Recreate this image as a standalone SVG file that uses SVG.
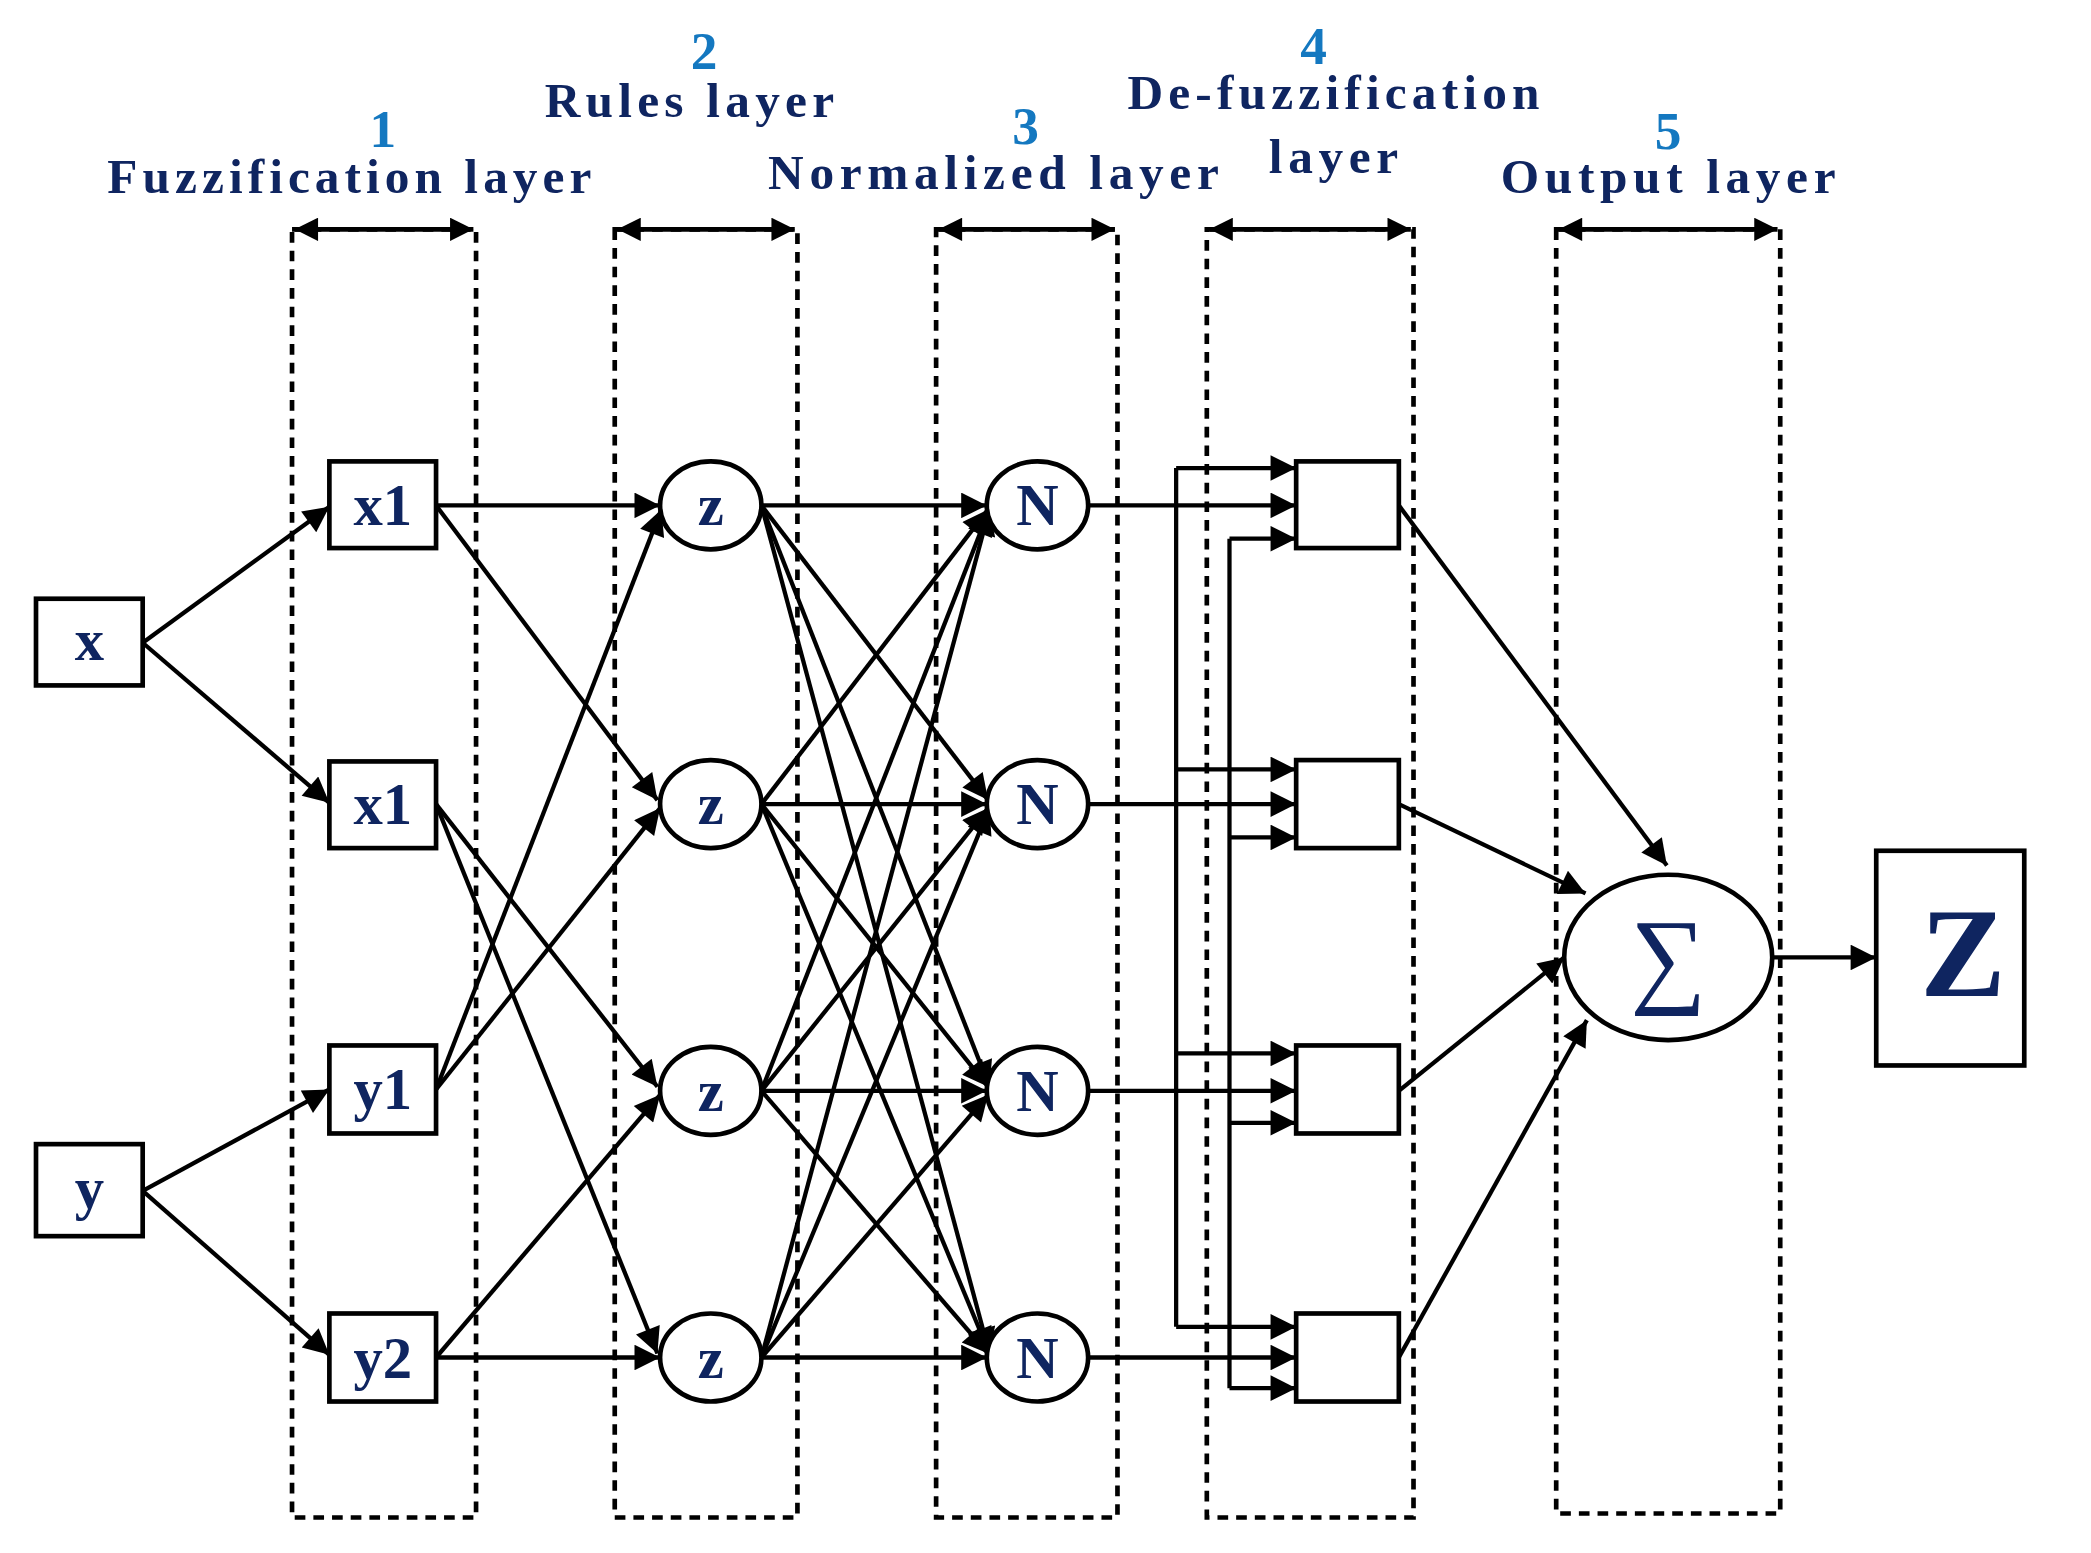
<svg xmlns="http://www.w3.org/2000/svg" width="2091" height="1553" viewBox="0 0 2091 1553">
<style>
.lbl{font-family:"Liberation Serif",serif;font-weight:bold;fill:#0f2560;text-anchor:middle}
.hd{font-size:37px}
.num{font-family:"Liberation Serif",serif;font-weight:bold;fill:#1478c0;text-anchor:middle;font-size:40px}
.col{fill:none;stroke:#000;stroke-width:3.5;stroke-dasharray:8,6}
.nd{fill:#fff;stroke:#000;stroke-width:3.5}
.ln{stroke:#000;stroke-width:3.2;fill:none}
.a{marker-end:url(#ah)}
</style>
<defs>
<marker id="ah" viewBox="0 0 10 10" refX="10" refY="5" markerWidth="10" markerHeight="6" orient="auto" markerUnits="strokeWidth"><path d="M0,0L10,5L0,10z" fill="#000"/></marker>
<marker id="dh" viewBox="0 0 10 10" refX="10" refY="5" markerWidth="8" markerHeight="5" orient="auto-start-reverse" markerUnits="strokeWidth"><path d="M0,0L10,5L0,10z" fill="#000"/></marker>
</defs>
<rect width="2091" height="1553" fill="#fff"/>
<g transform="scale(1.3335)">
<g id="headers">
<text class="num" x="287" y="110">1</text>
<text class="lbl hd" x="262" y="145" textLength="363" lengthAdjust="spacing">Fuzzification layer</text>
<text class="num" x="528" y="52">2</text>
<text class="lbl hd" x="517" y="88" textLength="217" lengthAdjust="spacing">Rules layer</text>
<text class="num" x="769" y="108">3</text>
<text class="lbl hd" x="745" y="142" textLength="338" lengthAdjust="spacing">Normalized layer</text>
<text class="num" x="985" y="48">4</text>
<text class="lbl hd" x="1000" y="82" textLength="309" lengthAdjust="spacing">De-fuzzification</text>
<text class="lbl hd" x="1000" y="130" textLength="97" lengthAdjust="spacing">layer</text>
<text class="num" x="1251" y="112">5</text>
<text class="lbl hd" x="1251" y="145" textLength="251" lengthAdjust="spacing">Output layer</text>
</g>
<g id="columns">
<rect class="col" x="219" y="172" width="138" height="966"/>
<rect class="col" x="461" y="172" width="137" height="966"/>
<rect class="col" x="702" y="172" width="136" height="966"/>
<rect class="col" x="905" y="172" width="155" height="966"/>
<rect class="col" x="1167" y="172" width="168" height="963"/>
<g stroke="#000" stroke-width="3.5">
<line x1="221" y1="172" x2="355" y2="172" marker-start="url(#dh)" marker-end="url(#dh)"/>
<line x1="463" y1="172" x2="596" y2="172" marker-start="url(#dh)" marker-end="url(#dh)"/>
<line x1="704" y1="172" x2="836" y2="172" marker-start="url(#dh)" marker-end="url(#dh)"/>
<line x1="907" y1="172" x2="1058" y2="172" marker-start="url(#dh)" marker-end="url(#dh)"/>
<line x1="1169" y1="172" x2="1333" y2="172" marker-start="url(#dh)" marker-end="url(#dh)"/>
</g>
</g>
<g id="connectors">
<path class="ln a" d="M107,482L247,380"/>
<path class="ln a" d="M107,482L247,602"/>
<path class="ln a" d="M107,893L247,817"/>
<path class="ln a" d="M107,893L247,1016"/>
<path class="ln a" d="M327,379L495,379"/>
<path class="ln a" d="M327,379L493,600"/>
<path class="ln a" d="M327,603L493,815"/>
<path class="ln a" d="M327,603L493,1015"/>
<path class="ln a" d="M327,817L496,382"/>
<path class="ln a" d="M327,817L495,606"/>
<path class="ln a" d="M327,1018L495,821"/>
<path class="ln a" d="M327,1018L495,1018"/>
<g id="zn">
<path class="ln a" d="M571,379L740,379"/><path class="ln a" d="M571,379L741,600"/><path class="ln a" d="M571,379L742,815"/><path class="ln a" d="M571,379L742,1015"/>
<path class="ln a" d="M571,603L741,382"/><path class="ln a" d="M571,603L740,603"/><path class="ln a" d="M571,603L741,815"/><path class="ln a" d="M571,603L742,1015"/>
<path class="ln a" d="M571,818L742,382"/><path class="ln a" d="M571,818L741,606"/><path class="ln a" d="M571,818L740,818"/><path class="ln a" d="M571,818L741,1015"/>
<path class="ln a" d="M571,1018L742,382"/><path class="ln a" d="M571,1018L742,606"/><path class="ln a" d="M571,1018L741,821"/><path class="ln a" d="M571,1018L740,1018"/>
</g>
<g id="nd">
<path class="ln a" d="M816,379L972,379"/><path class="ln a" d="M816,603L972,603"/><path class="ln a" d="M816,818L972,818"/><path class="ln a" d="M816,1018L972,1018"/>
<path class="ln" d="M882,351V995"/><path class="ln" d="M922,404V1041"/>
<path class="ln a" d="M882,351L972,351"/><path class="ln a" d="M882,577L972,577"/><path class="ln a" d="M882,790L972,790"/><path class="ln a" d="M882,995L972,995"/>
<path class="ln a" d="M922,404L972,404"/><path class="ln a" d="M922,628L972,628"/><path class="ln a" d="M922,842L972,842"/><path class="ln a" d="M922,1041L972,1041"/>
</g>
<path class="ln a" d="M1049,379L1250,649"/>
<path class="ln a" d="M1049,603L1189,670"/>
<path class="ln a" d="M1049,818L1173,718"/>
<path class="ln a" d="M1049,1018L1190,765"/>
<path class="ln a" d="M1329,718L1407,718"/>
</g>
<g id="x"><rect class="nd" x="27" y="449" width="80" height="65" stroke-width="5"/><text class="lbl" x="67" y="495" font-size="44">x</text></g>
<g id="y"><rect class="nd" x="27" y="858" width="80" height="69"/><text class="lbl" x="67" y="906" font-size="44">y</text></g>
<g id="x1a"><rect class="nd" x="247" y="346" width="80" height="65"/><text class="lbl" x="287" y="394" font-size="44">x1</text></g>
<g id="x1b"><rect class="nd" x="247" y="571" width="80" height="65" stroke-width="5"/><text class="lbl" x="287" y="618" font-size="44">x1</text></g>
<g id="y1"><rect class="nd" x="247" y="784" width="80" height="66" stroke-width="5"/><text class="lbl" x="287" y="832" font-size="44">y1</text></g>
<g id="y2"><rect class="nd" x="247" y="985" width="80" height="66" stroke-width="5"/><text class="lbl" x="287" y="1033" font-size="44">y2</text></g>
<g id="z1"><ellipse class="nd" cx="533" cy="379" rx="38" ry="33"/><text class="lbl" x="533" y="394" font-size="44">z</text></g>
<g id="z2"><ellipse class="nd" cx="533" cy="603" rx="38" ry="33"/><text class="lbl" x="533" y="618" font-size="44">z</text></g>
<g id="z3"><ellipse class="nd" cx="533" cy="818" rx="38" ry="33"/><text class="lbl" x="533" y="833" font-size="44">z</text></g>
<g id="z4"><ellipse class="nd" cx="533" cy="1018" rx="38" ry="33"/><text class="lbl" x="533" y="1033" font-size="44">z</text></g>
<g id="n1"><ellipse class="nd" cx="778" cy="379" rx="38" ry="33"/><text class="lbl" x="778" y="394" font-size="44">N</text></g>
<g id="n2"><ellipse class="nd" cx="778" cy="603" rx="38" ry="33"/><text class="lbl" x="778" y="618" font-size="44">N</text></g>
<g id="n3"><ellipse class="nd" cx="778" cy="818" rx="38" ry="33"/><text class="lbl" x="778" y="833" font-size="44">N</text></g>
<g id="n4"><ellipse class="nd" cx="778" cy="1018" rx="38" ry="33"/><text class="lbl" x="778" y="1033" font-size="44">N</text></g>
<g id="d1"><rect class="nd" x="972" y="346" width="77" height="65"/></g>
<g id="d2"><rect class="nd" x="972" y="570" width="77" height="66"/></g>
<g id="d3"><rect class="nd" x="972" y="784" width="77" height="66"/></g>
<g id="d4"><rect class="nd" x="972" y="985" width="77" height="66"/></g>
<g id="sum"><ellipse class="nd" cx="1251" cy="718" rx="78" ry="62" stroke-width="1.8"/><text x="1251" y="745" font-family="Liberation Serif,serif" font-size="80" fill="#0f2560" text-anchor="middle">∑</text></g>
<g id="Z"><rect class="nd" x="1407" y="638" width="111" height="161" stroke-width="5"/><text class="lbl" x="1472" y="747" font-size="96">Z</text></g>
</g>
</svg>
